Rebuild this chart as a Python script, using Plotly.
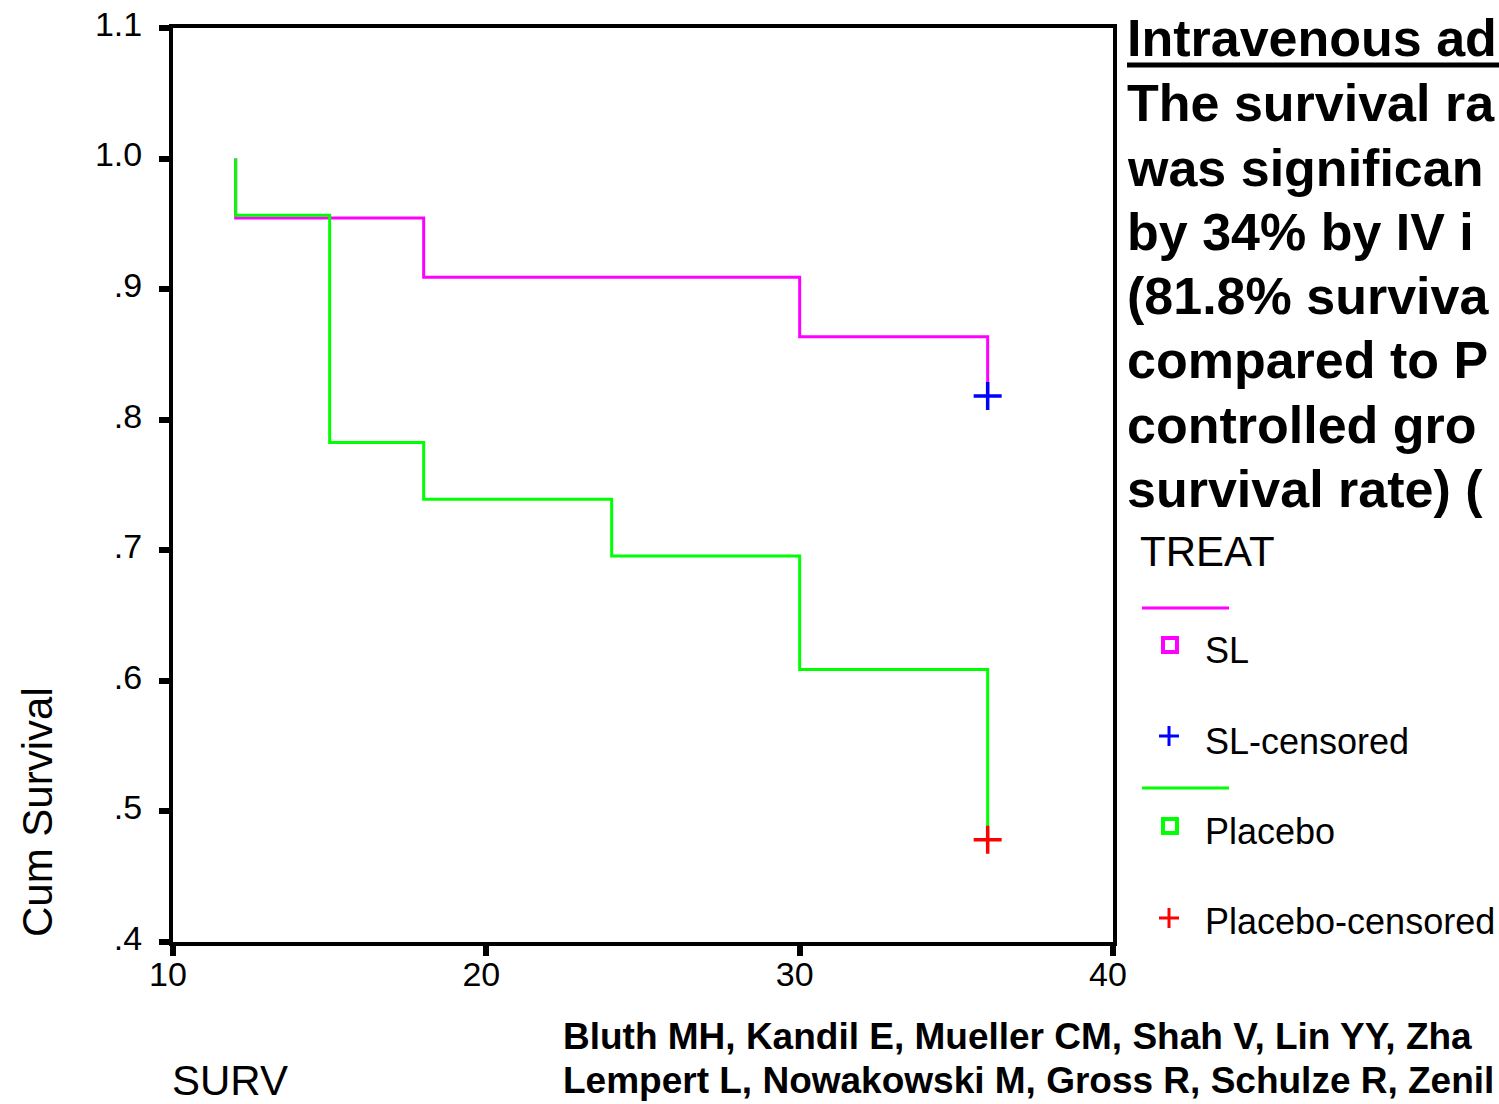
import plotly.graph_objects as go

# ---- data ----
sl_time = [12, 12, 18, 30, 36]
sl_surv = [1.0, 0.9545, 0.9091, 0.8636, 0.8182]
pl_time = [12, 12, 15, 18, 24, 30, 36]
pl_surv = [1.0, 0.9565, 0.7826, 0.7391, 0.6957, 0.6087, 0.4783]
sl_cens_time = [36]
sl_cens_surv = [0.8182]
pl_cens_time = [36]
pl_cens_surv = [0.4783]

x_ticks = [10, 20, 30, 40]
x_ticklabels = ["10", "20", "30", "40"]
y_ticks = [0.4, 0.5, 0.6, 0.7, 0.8, 0.9, 1.0, 1.1]
y_ticklabels = [".4", ".5", ".6", ".7", ".8", ".9", "1.0", "1.1"]

title_lines = [
    "Intravenous ad",
    "The survival ra",
    "was significan",
    "by 34% by IV i",
    "(81.8% surviva",
    "compared to P",
    "controlled gro",
    "survival rate) (",
]
citation_lines = [
    "Bluth MH, Kandil E, Mueller CM, Shah V, Lin YY, Zha",
    "Lempert L, Nowakowski M, Gross R, Schulze R, Zenil",
]
legend_title = "TREAT"
legend_labels = ["SL", "SL-censored", "Placebo", "Placebo-censored"]

MAGENTA = "#FF00FF"
GREEN = "#00FF00"
BLUE = "#0000FF"
RED = "#FF0000"

W, H = 1499, 1104
L, R, T, B = 173, 386, 28, 162
PW, PH = W - L - R, H - T - B


def px(x):
    return (x - L) / PW


def py(y):
    return (H - B - y) / PH


fig = go.Figure()
fig.add_trace(go.Scatter(x=sl_time, y=sl_surv, mode="lines", line=dict(color=MAGENTA, width=3, shape="hv"),
                         showlegend=False, hoverinfo="skip"))
fig.add_trace(go.Scatter(x=pl_time, y=pl_surv, mode="lines", line=dict(color=GREEN, width=3, shape="hv"),
                         showlegend=False, hoverinfo="skip"))
fig.add_trace(go.Scatter(x=sl_cens_time, y=sl_cens_surv, mode="markers",
                         marker=dict(symbol="cross-thin", size=20, line=dict(color=BLUE, width=3.5)),
                         showlegend=False, cliponaxis=False))
fig.add_trace(go.Scatter(x=pl_cens_time, y=pl_cens_surv, mode="markers",
                         marker=dict(symbol="cross-thin", size=20, line=dict(color=RED, width=3.5)),
                         showlegend=False, cliponaxis=False))

axis_common = dict(showgrid=False, zeroline=False, showline=True, linecolor="black", linewidth=4,
                   mirror=True, ticks="outside", ticklen=10, tickwidth=6, tickcolor="black",
                   tickfont=dict(family="Liberation Sans, Arial", size=34, color="black"))
fig.update_xaxes(range=[10, 40], tickvals=x_ticks, ticktext=x_ticklabels, ticklabelstandoff=-11,
                 ticklabelshift=-5, **axis_common)
fig.update_yaxes(range=[0.4, 1.1], tickvals=y_ticks, ticktext=y_ticklabels, ticklabelstandoff=10,
                 ticklabelshift=-4, **axis_common)

ann = []
# axis titles
ann.append(dict(text="Cum Survival", x=px(37), y=py(812), xref="paper", yref="paper", textangle=-90,
                showarrow=False, xanchor="center", yanchor="middle",
                font=dict(family="Liberation Sans, Arial", size=42, color="black")))
ann.append(dict(text="SURV", x=px(170), y=py(1080), xref="paper", yref="paper",
                showarrow=False, xanchor="left", yanchor="middle",
                font=dict(family="Liberation Sans, Arial", size=42, color="black")))
# title text block
title_y = [38, 103, 168, 232, 296, 360, 425, 489]
for txt, yy in zip(title_lines, title_y):
    ann.append(dict(text="<b>%s</b>" % txt, x=px(1125), y=py(yy), xref="paper", yref="paper",
                    showarrow=False, xanchor="left", yanchor="middle",
                    font=dict(family="Liberation Sans, Arial", size=52, color="black")))
# citation
for txt, yy in zip(citation_lines, [1036, 1080]):
    ann.append(dict(text="<b>%s</b>" % txt, x=px(561), y=py(yy), xref="paper", yref="paper",
                    showarrow=False, xanchor="left", yanchor="middle",
                    font=dict(family="Liberation Sans, Arial", size=37, color="black")))
# legend
ann.append(dict(text=legend_title, x=px(1138), y=py(551), xref="paper", yref="paper",
                showarrow=False, xanchor="left", yanchor="middle",
                font=dict(family="Liberation Sans, Arial", size=42, color="black")))
for txt, yy in zip(legend_labels, [651, 741, 831, 921]):
    ann.append(dict(text=txt, x=px(1203), y=py(yy), xref="paper", yref="paper",
                    showarrow=False, xanchor="left", yanchor="middle",
                    font=dict(family="Liberation Sans, Arial", size=36, color="black")))

shapes = []
# underline of first title line
shapes.append(dict(type="line", xref="paper", yref="paper", x0=px(1127), x1=px(1510), y0=py(65), y1=py(65),
                   line=dict(color="black", width=5)))
# legend lines
for col, yy in [(MAGENTA, 608), (GREEN, 788)]:
    shapes.append(dict(type="line", xref="paper", yref="paper", x0=px(1142), x1=px(1229), y0=py(yy), y1=py(yy),
                       line=dict(color=col, width=3)))
# legend squares
for col, yy in [(MAGENTA, 645), (GREEN, 826)]:
    shapes.append(dict(type="rect", xref="paper", yref="paper", x0=px(1163), x1=px(1177), y0=py(yy - 7), y1=py(yy + 7),
                       line=dict(color=col, width=4), fillcolor="rgba(0,0,0,0)"))
# legend crosses
for col, yy in [(BLUE, 736), (RED, 918)]:
    shapes.append(dict(type="line", xref="paper", yref="paper", x0=px(1159), x1=px(1179), y0=py(yy), y1=py(yy),
                       line=dict(color=col, width=3)))
    shapes.append(dict(type="line", xref="paper", yref="paper", x0=px(1169), x1=px(1169), y0=py(yy - 10), y1=py(yy + 10),
                       line=dict(color=col, width=3)))

fig.update_layout(width=W, height=H, margin=dict(l=L, r=R, t=T, b=B, autoexpand=False),
                  paper_bgcolor="white", plot_bgcolor="white", annotations=ann, shapes=shapes,
                  showlegend=False)

fig.write_html("out.html")
